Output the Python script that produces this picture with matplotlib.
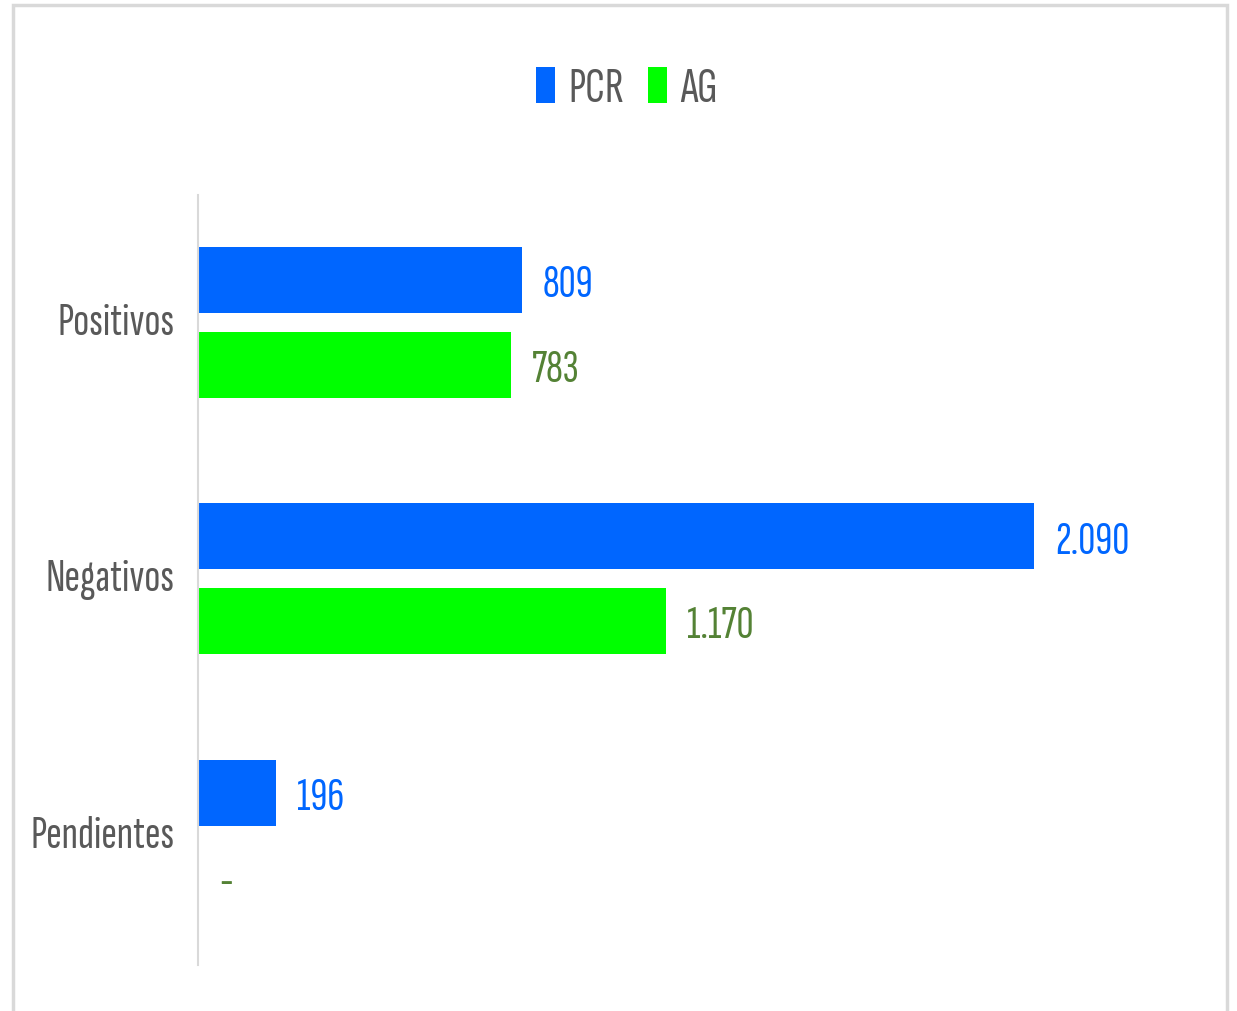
import matplotlib
matplotlib.use("Agg")
import matplotlib.pyplot as plt
from matplotlib.patches import Rectangle
import numpy as np

categories = ["Positivos", "Negativos", "Pendientes"]
series_names = ["PCR", "AG"]
pcr_values = [809, 2090, 196]
ag_values = [783, 1170, 0]
pcr_labels = ["809", "2.090", "196"]
ag_labels = ["783", "1.170", "-"]

plt.rcParams["font.family"] = ["Sofia Sans Extra Condensed", "DejaVu Sans"]

W, H = 1237, 1011
fig = plt.figure(figsize=(W / 100, H / 100), dpi=100)
fig.patch.set_facecolor("white")

# outer border
fig.patches.append(Rectangle((13 / W, -0.01), (1227 - 13) / W, (H - 5) / H + 0.01,
                             transform=fig.transFigure, fill=False,
                             edgecolor="#d9d9d9", linewidth=2.5))

ax = fig.add_axes([198 / W, (H - 965) / H, 1000 / W, 770 / H])
y = np.arange(len(categories))
bh = 0.257
off = 0.1655
blue = "#0066FF"
green = "#00FF00"
ax.barh(y - off - 0.005, pcr_values, height=bh, color=blue, label=series_names[0])
ax.barh(y + off - 0.005, ag_values, height=bh, color=green, label=series_names[1])
ax.set_ylim(len(categories) - 0.5, -0.5)
ax.set_xlim(0, 2500)

fs = 34
for i in range(len(categories)):
    ax.text(pcr_values[i] + 52, y[i] - off, pcr_labels[i], color=blue,
            fontsize=fs, va="center_baseline", ha="left")
    ax.text(ag_values[i] + 52, y[i] + off, ag_labels[i], color="#548235",
            fontsize=fs, va="center_baseline", ha="left")

ax.set_yticks(y)
ax.set_yticklabels(categories, fontsize=fs, color="#595959", va="center")
ax.tick_params(axis="y", length=0, pad=17)
ax.set_xticks([])
for s in ["top", "right", "bottom"]:
    ax.spines[s].set_visible(False)
ax.spines["left"].set_color("#d9d9d9")
ax.spines["left"].set_linewidth(1.5)

leg = fig.legend(loc="center", bbox_to_anchor=(627 / W, 1 - 89 / H), ncol=2,
                 frameon=False, fontsize=36, handlelength=0.38, handleheight=0.75,
                 handletextpad=0.25, columnspacing=0.5, labelcolor="#595959")

fig.savefig("out.png", dpi=100, facecolor="white")
